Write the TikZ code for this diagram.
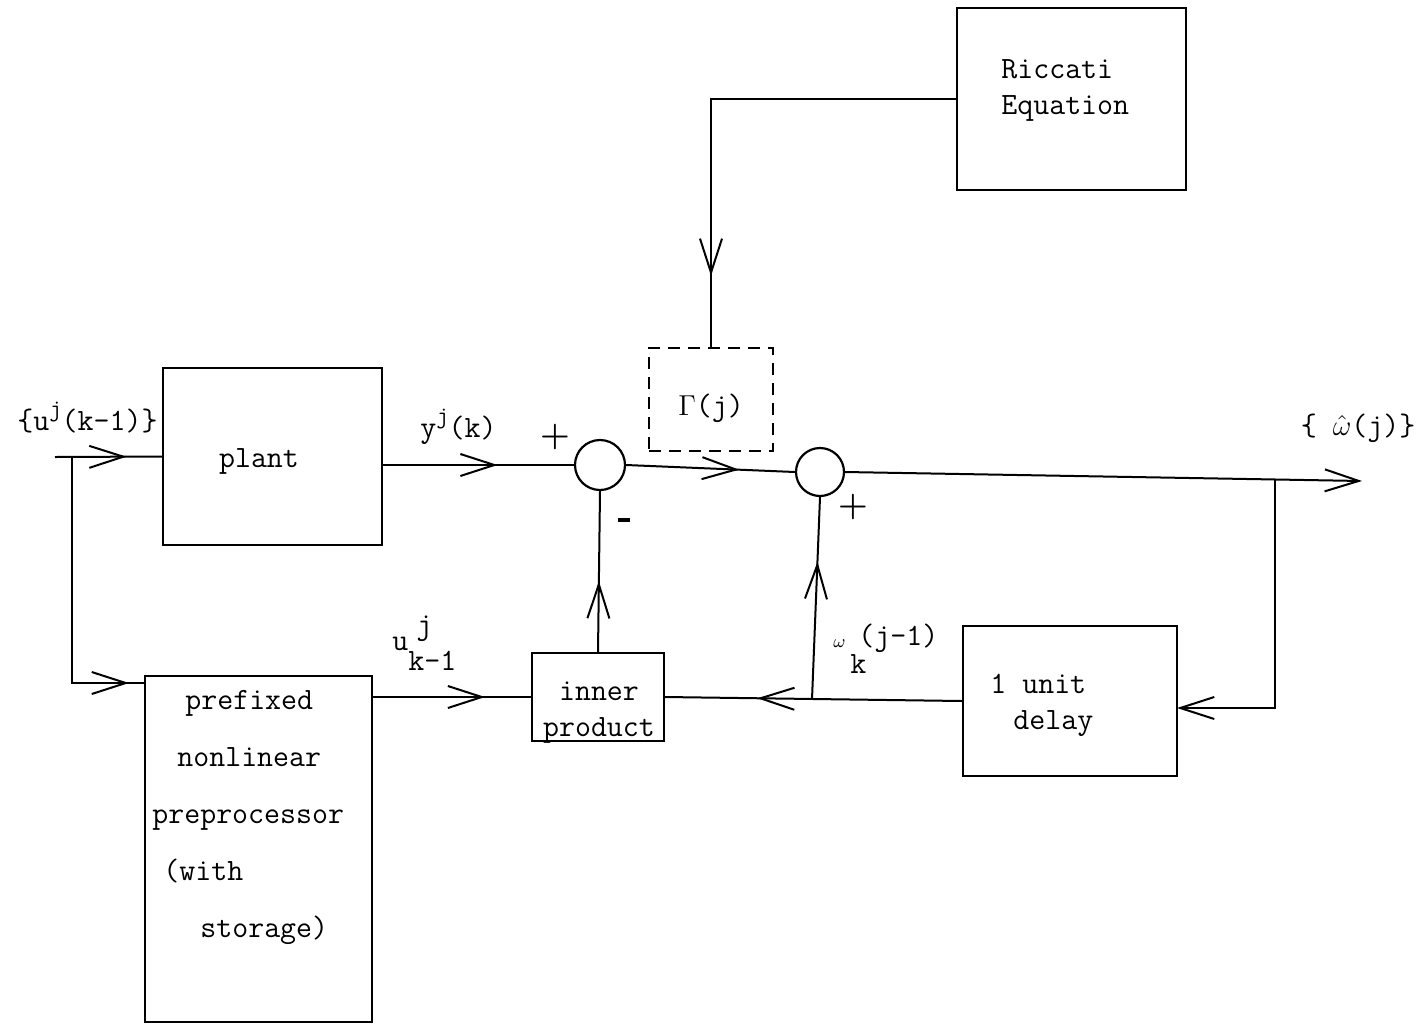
\documentclass[tikz,border=0pt]{standalone}
\usepackage{fontspec}
\usetikzlibrary{arrows.meta,decorations.markings,calc}
\begin{document}
\begin{tikzpicture}[x=0.5pt,y=-0.5pt,
  font=\fontsize{15.5}{18}\selectfont\ttfamily\addfontfeature{FakeBold=0.8},
  blk/.style={draw,line width=1.2pt,inner sep=0pt},
  sumc/.style={draw,circle,line width=1.1pt,minimum size=#1,inner sep=0pt},
  wire/.style={line width=1pt},
  barb/.tip={Straight Barb[length=17pt,width=11pt,line width=1pt]},
  midarr/.style={wire,postaction={decorate},decoration={markings,mark=at position #1 with {\arrow{barb}}}},
  lbl/.style={inner sep=0pt},
  sgn/.style={inner sep=0pt,font=\fontsize{17}{17}\selectfont\rmfamily\bfseries}
]
\useasboundingbox (0,0) rectangle (1422,1028);

% blocks
\node[blk,minimum width=114.5pt,minimum height=91pt] (ric) at (1071.5,99) {};
\node[lbl,align=left,anchor=west] (rictext) at (1001,90) {Riccati\\Equation};

\node[blk,minimum width=109.5pt,minimum height=88.5pt] (plant) at (272.5,456.5) {};
\node[lbl] (planttext) at (259,461) {plant};

\node[blk,line width=1.1pt,dash pattern=on 6pt off 4pt,minimum width=62pt,minimum height=51.5pt] (gam) at (711,399.5) {};
\node[lbl] (gamtext) at (711,408) {$\Gamma$(j)};

\node[sumc=25pt] (s1) at (600,465) {};
\node[sumc=24pt] (s2) at (820,472) {};

\node[blk,minimum width=66pt,minimum height=44pt] (inner) at (598,697) {};
\node[lbl,align=center] (innertext) at (599,713) {inner\\product};

\node[blk,minimum width=107pt,minimum height=75pt] (delay) at (1070,701) {};
\node[lbl,align=left,anchor=west] (delaytext) at (990,705) {1 unit\\\hspace*{11.5pt}delay};

\node[blk,minimum width=113.5pt,minimum height=173pt] (pre) at (258.5,849) {};
\node[lbl,align=left,anchor=west] (pretext) at (152,817) {\hspace*{16.5pt}prefixed\\[10.5pt]
\hspace*{12.5pt}nonlinear\\[10.5pt]
{\addfontfeature{LetterSpace=8}preprocessor}\\[10.5pt]
\hspace*{5.5pt}(with\\[10.5pt]
\hspace*{24pt}storage)};

% labels
\node[lbl,anchor=base west] (inlab) at (17,430) {\{u\raisebox{7pt}{\fontsize{12}{12}\selectfont j}(k-1)\}};
\node[lbl,anchor=base west] (ylab) at (420,437) {y\raisebox{7pt}{\fontsize{12}{12}\selectfont j}(k)};
\node[sgn] (p1) at (555,437) {+};
\node[lbl] (m1) at (624,520) {\rule{6pt}{1.6pt}};
\node[sgn] (p2) at (853,507) {+};
\node[lbl] (outlab) at (1358,428) {\{ $\hat{\omega}$(j)\}};
\node[lbl,anchor=base west] (ulab) at (392,650) {u\rlap{\hspace{4pt}\raisebox{8pt}{j}}\raisebox{-10pt}{k-1}};
\node[lbl,anchor=base west] (wom) at (833,647) {\fontsize{9}{9}\selectfont$\omega$};
\node[lbl,anchor=base west] (wk) at (850,673) {k};
\node[lbl,anchor=base west] (wj) at (858,645) {(j-1)};

% connectors
\coordinate (in) at (55,457);
\coordinate (jin) at (72,457);
\coordinate (prein) at (145,683);
\coordinate (out) at (1362,481);
\coordinate (dlin) at (1177,708);
\coordinate (j3) at ($(s2.east)!0.832!(out)$);
\coordinate (j2) at ($(delay.west)!0.505!(inner.east)$);

\draw[midarr=0.67] (in) -- (plant.west);
\draw[midarr=-8pt] (jin) |- (prein);
\draw[midarr=0.6] (plant.east |- s1.west) -- (s1.west);
\draw[midarr=0.67] (s1.east) -- (s2.west);
\draw[wire,-barb] (s2.east) -- (out);
\draw[wire,-barb] (j3) |- (dlin);
\draw[midarr=-35.5pt] (ric.west) -| (gam.north);
\draw[midarr=0.69] (delay.west) -- (inner.east);
\draw[midarr=0.68] (j2) -- (s2.south);
\draw[midarr=0.44] (inner.north) -- (s1.south);
\draw[midarr=0.71] (pre.east |- inner.west) -- (inner.west);
\end{tikzpicture}
\end{document}
